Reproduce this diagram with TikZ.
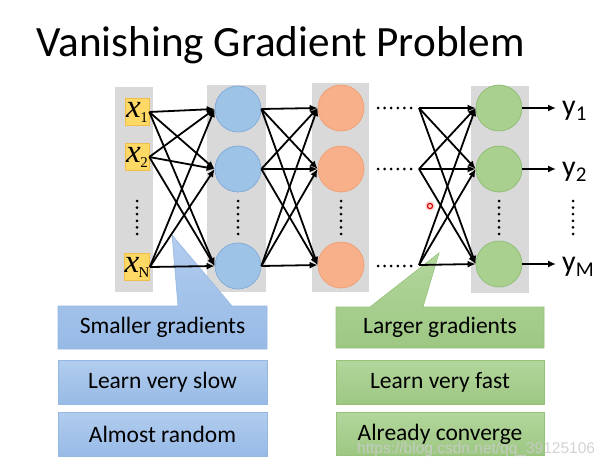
\documentclass[tikz,border=0pt]{standalone}
\usepackage{fontspec}
\setmainfont{Carlito}
\newfontfamily\serifx{Liberation Serif}
\newfontfamily\wmfont{Liberation Sans}
\usetikzlibrary{arrows.meta}
\definecolor{colgray}{HTML}{D9D9D9}
\definecolor{bluetop}{HTML}{B2CDEE}
\definecolor{bluebot}{HTML}{97BAE6}
\definecolor{blueline}{HTML}{95B8E3}
\definecolor{greentop}{HTML}{B3D69C}
\definecolor{greenbot}{HTML}{9DC783}
\definecolor{greenline}{HTML}{97C27A}
\definecolor{bcircfill}{HTML}{9DC3E6}
\definecolor{bcircline}{HTML}{7FA9D9}
\definecolor{ocircfill}{HTML}{F8B08A}
\definecolor{ocircline}{HTML}{EE9F72}
\definecolor{gcircfill}{HTML}{A9D08E}
\definecolor{gcircline}{HTML}{8FBC72}
\definecolor{inboxfill}{HTML}{FFD966}
\definecolor{inboxline}{HTML}{F2BE4A}
\newcommand{\xlab}[1]{{\fontsize{33}{33}\selectfont\itshape x}\kern-0.5pt\raisebox{-5pt}{\fontsize{15}{15}\selectfont #1}}
\tikzset{
  neuron/.style={circle, minimum size=46pt, inner sep=0pt, line width=0.7pt},
  bneuron/.style={neuron, fill=bcircfill, draw=bcircline},
  oneuron/.style={neuron, fill=ocircfill, draw=ocircline},
  gneuron/.style={neuron, fill=gcircfill, draw=gcircline},
  inbox/.style={rectangle, minimum width=24pt, minimum height=27pt, inner sep=0pt,
    fill=inboxfill, draw=inboxline, line width=0.6pt, font=\serifx},
  arr/.style={line width=1.8pt, -{Latex[length=8pt,width=7pt]}},
  boxtext/.style={font=\fontsize{23.5}{26}\selectfont, text=black},
  ylab/.style={anchor=base west, inner sep=0pt, font=\fontsize{30}{32}\selectfont},
  bluebox/.style={top color=bluetop, bottom color=bluebot, draw=blueline, line width=0.6pt},
  greenbox/.style={top color=greentop, bottom color=greenbot, draw=greenline, line width=0.6pt},
}
\begin{document}
\begin{tikzpicture}[x=1pt,y=-1pt]
\useasboundingbox (0,0) rectangle (612,468);
\fill[white] (0,0) rectangle (612,468);

% title
\node[anchor=base west, inner sep=0pt, font=\fontsize{43.2}{48}\selectfont] (title) at (36,57) {Vanishing Gradient Problem};

% gray columns
\fill[colgray] (115,87) rectangle (153,292);
\fill[colgray] (207,85) rectangle (266,292);
\fill[colgray] (312,83) rectangle (369,292);
\fill[colgray] (471,86) rectangle (529,293);

% callouts
\draw[bluebox]
  (58,306) -- (178,306) -- (172,235) -- (232,306) -- (267,306) -- (267,349) -- (58,349) -- cycle;
\draw[bluebox] (58,360) rectangle (267,404);
\draw[bluebox] (58,412) rectangle (267,456);
\node[boxtext] (t1) at (162.5,327.5) {Smaller gradients};
\node[boxtext] (t2) at (162.5,382) {Learn very slow};
\node[boxtext] (t3) at (162.5,434) {Almost random};

\draw[greenbox]
  (336,307) -- (370,307) -- (439,253) -- (423,307) -- (544,307) -- (544,348) -- (336,348) -- cycle;
\draw[greenbox] (336,360) rectangle (544,404);
\draw[greenbox] (336,412) rectangle (544,455);
\node[boxtext] (t4) at (440,327.5) {Larger gradients};
\node[boxtext] (t5) at (440,382) {Learn very fast};
\node[boxtext] (t6) at (440,434) {Already converge};

% inputs
\node[inbox] (x1) at (137,112) {\xlab{1}};
\node[inbox] (x2) at (137,157) {\xlab{2}};
\node[inbox] (xn) at (137,267) {\xlab{N}};

% neurons
\node[bneuron] (b1) at (238,109) {};
\node[bneuron] (b2) at (238,169) {};
\node[bneuron] (b3) at (238,266) {};
\node[oneuron] (o1) at (341,108) {};
\node[oneuron] (o2) at (341,169) {};
\node[oneuron] (o3) at (341,265) {};
\node[gneuron] (g1) at (499,108) {};
\node[gneuron] (g2) at (499,169) {};
\node[gneuron] (g3) at (499,264) {};

\coordinate (d1) at (419,108);
\coordinate (d2) at (419,169);
\coordinate (d3) at (419,265);

% horizontal dots
\foreach \yy in {108,169,266}
  \foreach \i in {0,...,5}
    \fill (378+\i*6.6,\yy) circle (1.5);
% vertical dots
\foreach \xx in {137,238,341,499,573}
  \foreach \i in {0,...,5}
    \fill (\xx,201+\i*6.6) circle (1.5);

% connections
\foreach \a in {x1,x2,xn}
  \foreach \b in {b1,b2,b3}
    \draw[arr] (\a.east) -- (\b.west);
\foreach \a in {b1,b2,b3}
  \foreach \b in {o1,o2,o3}
    \draw[arr] (\a.east) -- (\b.west);
\foreach \a in {d1,d2,d3}
  \foreach \b in {g1,g2,g3}
    \draw[arr] (\a) -- (\b.west);

% outputs
\node[ylab] (y1) at (562,115.5) {y\textsubscript{1}};
\node[ylab] (y2) at (562,176.5) {y\textsubscript{2}};
\node[ylab] (ym) at (562,271.5) {y\textsubscript{M}};
\draw[arr, shorten >=6pt] (g1.east) -- (g1.east -| y1.west);
\draw[arr, shorten >=6pt] (g2.east) -- (g2.east -| y2.west);
\draw[arr, shorten >=6pt] (g3.east) -- (g3.east -| ym.west);

% pointer mark
\fill[red!25, opacity=0.6] (430,206) circle (5);
\draw[red!85!black, line width=1.1pt, fill=red!20] (430,206) circle (2.6);

% watermark
\node[anchor=base west, inner sep=0pt, font=\wmfont\fontsize{15.5}{18}\selectfont, text=white!80!black, opacity=0.85] (wm) at (357,453) {https://blog.csdn.net/qq\_39125106};
\end{tikzpicture}
\end{document}
